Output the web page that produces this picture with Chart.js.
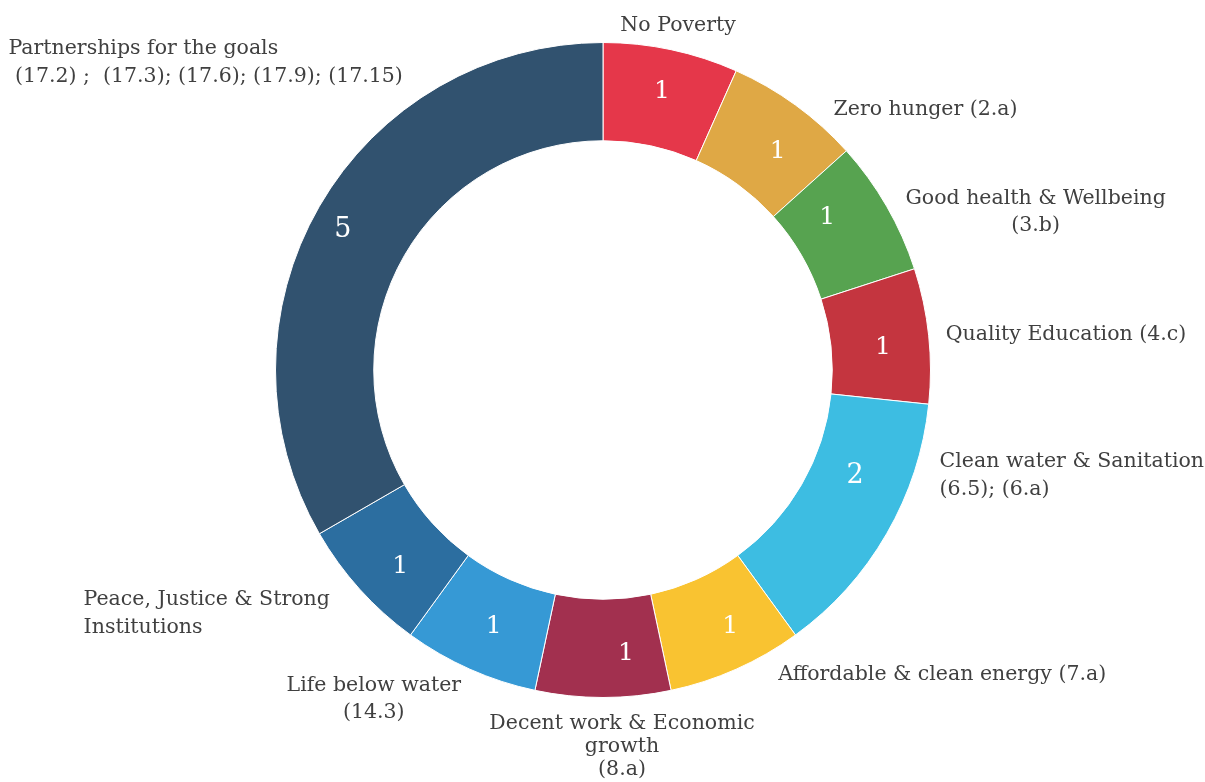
<!DOCTYPE html>
<html>
<head>
<meta charset="utf-8">
<script src="https://cdn.jsdelivr.net/npm/chart.js@4"></script>
<style>
  html, body { margin: 0; padding: 0; background: #fff; }
  #wrap { width: 1205px; height: 782px; }
</style>
</head>
<body>
<div id="wrap"><canvas id="sdgChart" width="1205" height="782"></canvas></div>
<script>
// SDG targets covered, one slice per goal
const categories = [
  "No Poverty",
  "Zero hunger (2.a)",
  "Good health & Wellbeing (3.b)",
  "Quality Education (4.c)",
  "Clean water & Sanitation (6.5); (6.a)",
  "Affordable & clean energy (7.a)",
  "Decent work & Economic growth (8.a)",
  "Life below water (14.3)",
  "Peace, Justice & Strong Institutions",
  "Partnerships for the goals (17.2) ; (17.3); (17.6); (17.9); (17.15)"
];
const targetCounts = [1, 1, 1, 1, 2, 1, 1, 1, 1, 5];
const sliceColors = [
  "#e5374a", "#dfa845", "#57a350", "#c4353f", "#3dbde2",
  "#f9c331", "#a2304f", "#3699d5", "#2c6ea0", "#31526f"
];
// label text split in lines as shown around the ring
const labelLines = [
  ["No Poverty"],
  ["Zero hunger (2.a)"],
  ["Good health & Wellbeing", "(3.b)"],
  ["Quality Education (4.c)"],
  ["Clean water & Sanitation", "(6.5); (6.a)"],
  ["Affordable & clean energy (7.a)"],
  ["Decent work & Economic", "growth", "(8.a)"],
  ["Life below water", "(14.3)"],
  ["Peace, Justice & Strong", "Institutions"],
  ["Partnerships for the goals", " (17.2) ;  (17.3); (17.6); (17.9); (17.15)"]
];

// where each outside label sits relative to the outer edge of its slice
const labelPlacement = [
  { align: "center", dx: 7, dy: -24, lh: 28 },
  { align: "left", dx: 38, dy: 5, lh: 28 },
  { align: "center", dx: 149, dy: -8, lh: 27 },
  { align: "left", dx: 17, dy: -1, lh: 28 },
  { align: "left", dx: 53, dy: -72, lh: 28 },
  { align: "left", dx: 42, dy: 5, lh: 28 },
  { align: "center", dx: 19, dy: 26, lh: 23 },
  { align: "center", dx: -96, dy: 16, lh: 27 },
  { align: "left", dx: -276, dy: 11, lh: 28 },
  { align: "left", dx: -311, dy: -158, lh: 28 }
];
// nudges for the value inside each slice
const valueNudge = [
  [1, -6], [11, 7], [-17, -13], [3, 7], [11, -33],
  [14, 2], [23, 5], [4, 2], [4, 10], [-19, -1]
];

const FONT = "'DejaVu Serif', Georgia, serif";

const ringLabels = {
  id: "ringLabels",
  afterDatasetsDraw(chart) {
    const ctx = chart.ctx;
    const meta = chart.getDatasetMeta(0);
    ctx.save();
    meta.data.forEach((arc, i) => {
      const p = arc.getProps(["x", "y", "startAngle", "endAngle", "innerRadius", "outerRadius"], true);
      const mid = (p.startAngle + p.endAngle) / 2;
      const cos = Math.cos(mid), sin = Math.sin(mid);

      // value inside the ring
      const rMid = (p.innerRadius + p.outerRadius) / 2;
      ctx.fillStyle = "#ffffff";
      ctx.font = (targetCounts[i] > 1 ? "27px " : "25px ") + FONT;
      ctx.textAlign = "center";
      ctx.textBaseline = "middle";
      ctx.fillText(String(targetCounts[i]),
        p.x + cos * rMid + valueNudge[i][0],
        p.y + sin * rMid + valueNudge[i][1]);

      // category label outside
      const pl = labelPlacement[i];
      const ax = p.x + cos * p.outerRadius + pl.dx;
      const ay = p.y + sin * p.outerRadius + pl.dy;
      ctx.fillStyle = "#404040";
      ctx.font = "20.5px " + FONT;
      ctx.textAlign = pl.align;
      labelLines[i].forEach((line, j) => {
        ctx.fillText(line, ax, ay + j * pl.lh);
      });
    });
    ctx.restore();
  }
};

new Chart(document.getElementById("sdgChart"), {
  type: "doughnut",
  data: {
    labels: categories,
    datasets: [{
      data: targetCounts,
      backgroundColor: sliceColors,
      borderColor: "#ffffff",
      borderWidth: 1
    }]
  },
  options: {
    responsive: false,
    animation: false,
    cutout: "70%",
    layout: { padding: { top: 42, bottom: 84, left: 1, right: 0 } },
    plugins: {
      legend: { display: false },
      tooltip: { enabled: false }
    }
  },
  plugins: [ringLabels]
});
</script>
</body>
</html>
